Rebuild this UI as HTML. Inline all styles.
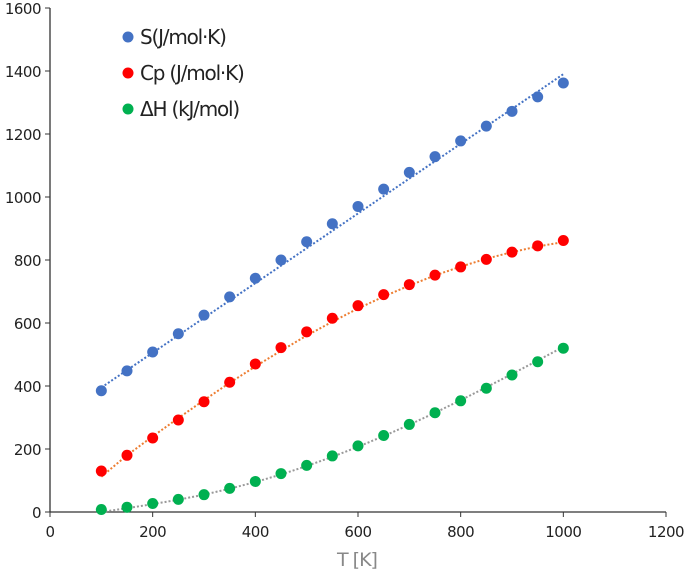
<!DOCTYPE html>
<html><head><meta charset="utf-8"><style>
body{margin:0;background:#fff}
svg{display:block;font-family:"DejaVu Sans","Liberation Sans",sans-serif}
</style></head><body>
<svg id="c" width="685" height="573"></svg>
<script>
const temps=[100,150,200,250,300,350,400,450,500,550,600,650,700,750,800,850,900,950,1000];
const sVals=[385,448,508,566,625,683,742,800,858,915,970,1025,1078,1128,1178,1225,1272,1318,1362];
const cpVals=[130,180,235,292,350,412,470,522,572,615,655,690,722,752,778,802,825,845,862];
const hVals=[8,15,27,40,55,75,97,122,148,178,210,243,278,315,353,393,435,477,520];
const sTrend=[395,1390];
const cpTrend=[112,180,240,298,355,410,462,512,560,604,646,684,719,751,779,804,825,843,857];
const hTrend=[0,12,25,39,55,74,95,119,146,175,207,241,277,315,355,396,438,481,524];
const xTicks=[0,200,400,600,800,1000,1200];
const yTicks=[0,200,400,600,800,1000,1200,1400,1600];
const X0=50,X1=666,Y0=512,Y1=8;
const xs=v=>X0+(v/1200)*(X1-X0), ys=v=>Y0-(v/1600)*(Y0-Y1);
const svg=document.getElementById('c'),NS='http://www.w3.org/2000/svg';
function mk(t,a,p){const e=document.createElementNS(NS,t);for(const k in a)e.setAttribute(k,a[k]);(p||svg).appendChild(e);return e;}
let e;
e=mk('line',{x1:X0,y1:Y1,x2:X0,y2:Y0,stroke:'#333','stroke-width':1.3});


e=mk('line',{x1:X0,y1:Y0,x2:X1,y2:Y0,stroke:'#333','stroke-width':1.3});


yTicks.forEach(v=>{const y=ys(v);
 mk('line',{x1:X0-5,y1:y,x2:X0,y2:y,stroke:'#333'});
 e=mk('text',{x:X0-9,y:y+6,'text-anchor':'end','font-size':15,fill:'#222','letter-spacing':'-0.5'});e.textContent=v;
 
 });
xTicks.forEach(v=>{const x=xs(v);
 mk('line',{x1:x,y1:Y0,x2:x,y2:Y0+5,stroke:'#333'});
 e=mk('text',{x:x,y:Y0+25,'text-anchor':'middle','font-size':15,fill:'#222','letter-spacing':'-0.5'});e.textContent=v;
 
 });
e=mk('text',{x:357,y:566,'text-anchor':'middle','font-size':19,fill:'#888','letter-spacing':'-1'});e.textContent='T [K]';


function trend(xv,yv,col,name){const pts=xv.map((t,i)=>xs(t)+','+ys(yv[i])).join(' ');
 const l=mk('polyline',{points:pts,fill:'none',stroke:col,'stroke-width':2,'stroke-dasharray':'2 2'});
 
 }
trend([100,1000],sTrend,'#4472c4','s-trendline');
trend(temps,cpTrend,'#ed7d31','cp-trendline');
trend(temps,hTrend,'#999','h-trendline');
function dots(vals,col,name){vals.forEach((v,i)=>{const c=mk('circle',{cx:xs(temps[i]),cy:ys(v),r:5.5,fill:col});
 
 });}
dots(sVals,'#4472c4','s-point');dots(cpVals,'#ff0000','cp-point');dots(hVals,'#00b050','h-point');
const leg=[['S(J/mol·K)','#4472c4',37],['Cp (J/mol·K)','#ff0000',73],['ΔH (kJ/mol)','#00b050',109]];
leg.forEach(l=>{const g=mk('g',{});
 
 
 mk('circle',{cx:128,cy:l[2],r:5.5,fill:l[1]},g);
 const t=mk('text',{x:140,y:l[2]+7,'font-size':20,fill:'#222','letter-spacing':'-1.2'},g);t.textContent=l[0];});
</script>
</body></html>
